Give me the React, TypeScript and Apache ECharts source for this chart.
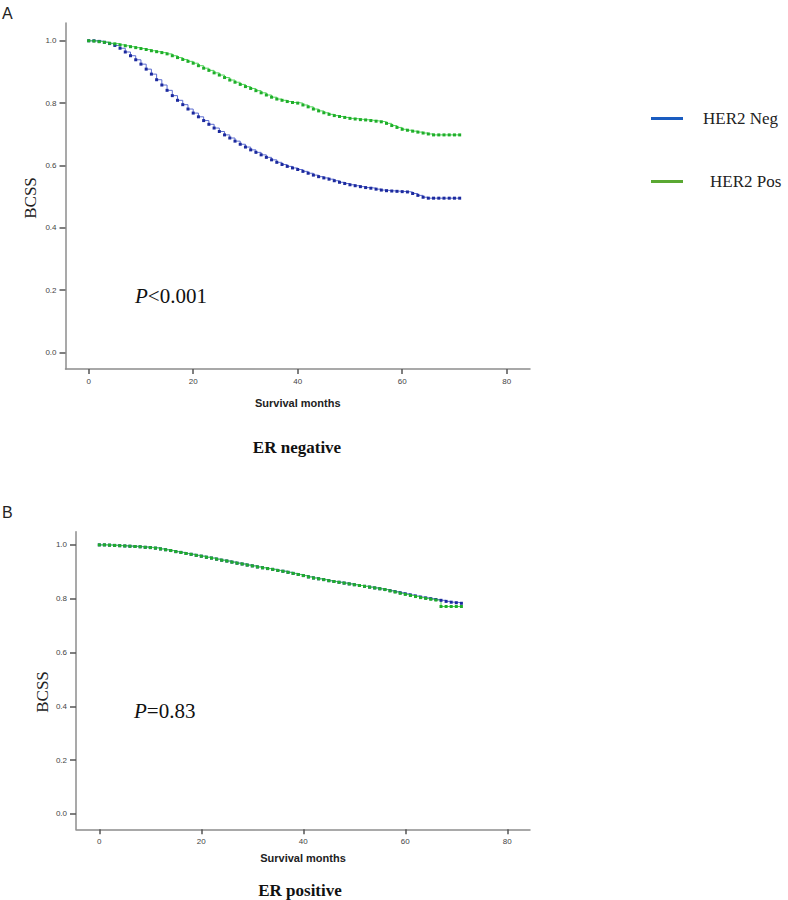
import React, { useEffect, useRef } from "react";
import * as echarts from "echarts";

// ---- data ----
const months = [0, 1, 2, 3, 4, 5, 6, 7, 8, 9, 10, 11, 12, 13, 14, 15, 16, 17, 18, 19, 20, 21, 22, 23, 24, 25, 26, 27, 28, 29, 30, 31, 32, 33, 34, 35, 36, 37, 38, 39, 40, 41, 42, 43, 44, 45, 46, 47, 48, 49, 50, 51, 52, 53, 54, 55, 56, 57, 58, 59, 60, 61, 62, 63, 64, 65, 66, 67, 68, 69, 70, 71];

// A: ER negative
const erNegHer2Neg = [1.0, 1.0, 0.998, 0.995, 0.991, 0.985, 0.976, 0.964, 0.952, 0.939, 0.925, 0.909, 0.893, 0.875, 0.858, 0.841, 0.824, 0.809, 0.795, 0.781, 0.768, 0.756, 0.744, 0.732, 0.72, 0.709, 0.698, 0.688, 0.678, 0.668, 0.659, 0.65, 0.642, 0.634, 0.626, 0.618, 0.61, 0.603, 0.597, 0.592, 0.587, 0.581, 0.575, 0.569, 0.564, 0.56, 0.556, 0.551, 0.546, 0.542, 0.538, 0.535, 0.532, 0.529, 0.527, 0.524, 0.521, 0.519, 0.518, 0.517, 0.516, 0.515, 0.51, 0.504, 0.498, 0.495, 0.495, 0.495, 0.495, 0.495, 0.495, 0.495];
const erNegHer2Pos = [1.0, 0.999, 0.997, 0.995, 0.992, 0.99, 0.987, 0.984, 0.981, 0.978, 0.975, 0.972, 0.968, 0.965, 0.962, 0.958, 0.952, 0.946, 0.94, 0.934, 0.928, 0.92, 0.912, 0.905, 0.897, 0.89, 0.882, 0.874, 0.867, 0.86, 0.853, 0.847, 0.84, 0.833, 0.826, 0.819, 0.813, 0.809, 0.805, 0.802, 0.8, 0.794, 0.788, 0.781, 0.775, 0.769, 0.764, 0.76, 0.757, 0.754, 0.751, 0.749, 0.747, 0.746, 0.744, 0.742, 0.74, 0.735, 0.728, 0.722, 0.716, 0.713, 0.71, 0.707, 0.704, 0.701, 0.698, 0.698, 0.698, 0.698, 0.698, 0.698];

// B: ER positive
const erPosHer2Neg = [1.0, 1.0, 0.999, 0.998, 0.997, 0.996, 0.995, 0.994, 0.993, 0.991, 0.99, 0.988, 0.985, 0.982, 0.979, 0.975, 0.972, 0.968, 0.965, 0.961, 0.958, 0.954, 0.951, 0.947, 0.943, 0.94, 0.936, 0.932, 0.929, 0.925, 0.922, 0.918, 0.915, 0.912, 0.909, 0.905, 0.902, 0.898, 0.894, 0.89, 0.886, 0.881, 0.877, 0.874, 0.871, 0.867, 0.864, 0.861, 0.858, 0.855, 0.852, 0.849, 0.846, 0.843, 0.84, 0.837, 0.834, 0.83, 0.826, 0.822, 0.818, 0.814, 0.81, 0.806, 0.803, 0.8, 0.797, 0.794, 0.79, 0.787, 0.785, 0.783];
const erPosHer2Pos = [1.0, 1.0, 0.999, 0.998, 0.997, 0.996, 0.995, 0.994, 0.993, 0.991, 0.99, 0.988, 0.985, 0.982, 0.979, 0.975, 0.972, 0.968, 0.965, 0.961, 0.958, 0.954, 0.951, 0.947, 0.943, 0.94, 0.936, 0.932, 0.929, 0.925, 0.922, 0.918, 0.915, 0.912, 0.909, 0.905, 0.902, 0.898, 0.894, 0.89, 0.886, 0.881, 0.877, 0.874, 0.871, 0.867, 0.864, 0.861, 0.858, 0.855, 0.852, 0.849, 0.846, 0.843, 0.84, 0.837, 0.834, 0.829, 0.825, 0.82, 0.816, 0.812, 0.808, 0.804, 0.801, 0.798, 0.795, 0.771, 0.771, 0.771, 0.771, 0.771];

const xTicks = [0, 20, 40, 60, 80];
const yTicks = [0, 0.2, 0.4, 0.6, 0.8, 1.0];
const seriesNames = ["HER2 Neg", "HER2 Pos"];

const BLUE_LINE = "#5a6bd0";
const BLUE_MARK = "#1c2a9e";
const GREEN_LINE = "#4fd858";
const GREEN_MARK = "#1fae2a";
const LEG_BLUE = "#1a5cc0";
const LEG_GREEN = "#5aa832";

const pairs = (vals: number[]) => months.map((m, i) => [m, vals[i]]);

const sansTick = { fontFamily: "Liberation Sans, Arial, sans-serif", fontSize: 8, color: "#444" };

function xAxisCfg(gridIndex: number, min: number, max: number, nameGap: number) {
  return {
    type: "value",
    gridIndex,
    min,
    max,
    axisLine: { show: true, onZero: false, lineStyle: { color: "#8c8c8c", width: 1.5 } },
    axisTick: { show: true, customValues: xTicks, length: 5, lineStyle: { color: "#555", width: 1.5 } },
    axisLabel: { show: true, customValues: xTicks, margin: 8, ...sansTick },
    splitLine: { show: false },
    name: "Survival months",
    nameLocation: "middle",
    nameGap,
    nameTextStyle: { fontFamily: "Liberation Sans, Arial, sans-serif", fontWeight: "bold", fontSize: 11, color: "#222" },
  };
}

function yAxisCfg(gridIndex: number, min: number, max: number) {
  return {
    type: "value",
    gridIndex,
    min,
    max,
    axisLine: { show: true, onZero: false, lineStyle: { color: "#8c8c8c", width: 1.5 } },
    axisTick: { show: true, customValues: yTicks, length: 6, lineStyle: { color: "#555", width: 1.5 } },
    axisLabel: { show: true, customValues: yTicks, margin: 9, formatter: (v: number) => v.toFixed(1), ...sansTick },
    splitLine: { show: false },
  };
}

function km(name: string, idx: number, vals: number[], line: string, mark: string) {
  return {
    type: "line",
    name,
    xAxisIndex: idx,
    yAxisIndex: idx,
    step: "end",
    data: pairs(vals),
    showSymbol: true,
    symbol: "rect",
    symbolSize: 3,
    lineStyle: { color: line, width: 1 },
    itemStyle: { color: mark },
    silent: true,
  };
}

export default function App() {
  const ref = useRef<HTMLDivElement>(null);
  useEffect(() => {
    if (!ref.current) return;
    const chart = echarts.init(ref.current, null, { renderer: "svg" });
    const serif = "Liberation Serif, Times New Roman, serif";
    const legendCommon = {
      left: 651,
      padding: 0,
      icon: "rect",
      itemWidth: 32,
      itemHeight: 3,
      selectedMode: false,
    };
    chart.setOption({
      animation: false,
      backgroundColor: "#ffffff",
      grid: [
        { left: 65.5, top: 23, width: 464.5, height: 346 },
        { left: 76, top: 531.7, width: 454, height: 297.6 },
      ],
      xAxis: [xAxisCfg(0, -4.44, 84.46, 28), xAxisCfg(1, -4.57, 84.45, 23)],
      yAxis: [yAxisCfg(0, -0.053, 1.057), yAxisCfg(1, -0.057, 1.049)],
      legend: [
        {
          ...legendCommon,
          top: 110,
          data: [{ name: seriesNames[0], itemStyle: { color: LEG_BLUE }, lineStyle: { color: LEG_BLUE } }],
          textStyle: { fontFamily: serif, fontSize: 17, color: "#222", padding: [0, 0, 0, 15] },
        },
        {
          ...legendCommon,
          top: 173,
          data: [{ name: seriesNames[1], itemStyle: { color: LEG_GREEN }, lineStyle: { color: LEG_GREEN } }],
          textStyle: { fontFamily: serif, fontSize: 17, color: "#222", padding: [0, 0, 0, 22] },
        },
      ],
      series: [
        km(seriesNames[0], 0, erNegHer2Neg, BLUE_LINE, BLUE_MARK),
        km(seriesNames[1], 0, erNegHer2Pos, GREEN_LINE, GREEN_MARK),
        km(seriesNames[0], 1, erPosHer2Neg, BLUE_LINE, BLUE_MARK),
        km(seriesNames[1], 1, erPosHer2Pos, GREEN_LINE, GREEN_MARK),
      ],
      graphic: [
        { type: "text", left: 2, top: 5, style: { text: "A", fontFamily: "Liberation Sans, Arial, sans-serif", fontSize: 16, fill: "#222" } },
        { type: "text", left: 2, top: 504, style: { text: "B", fontFamily: "Liberation Sans, Arial, sans-serif", fontSize: 16, fill: "#222" } },
        {
          type: "text", x: 30, y: 198, rotation: Math.PI / 2,
          style: { text: "BCSS", fontFamily: serif, fontSize: 17, fill: "#222", align: "center", verticalAlign: "middle" },
        },
        {
          type: "text", x: 42, y: 692, rotation: Math.PI / 2,
          style: { text: "BCSS", fontFamily: serif, fontSize: 17, fill: "#222", align: "center", verticalAlign: "middle" },
        },
        {
          type: "text", x: 135, y: 296,
          style: {
            text: "{i|P}<0.001", fontFamily: serif, fontSize: 21, fill: "#111", verticalAlign: "middle",
            rich: { i: { fontStyle: "italic", fontFamily: serif, fontSize: 21, fill: "#111" } },
          },
        },
        {
          type: "text", x: 134, y: 711,
          style: {
            text: "{i|P}=0.83", fontFamily: serif, fontSize: 21, fill: "#111", verticalAlign: "middle",
            rich: { i: { fontStyle: "italic", fontFamily: serif, fontSize: 21, fill: "#111" } },
          },
        },
        {
          type: "text", x: 297, y: 447,
          style: { text: "ER negative", fontFamily: serif, fontWeight: "bold", fontSize: 17, fill: "#111", align: "center", verticalAlign: "middle" },
        },
        {
          type: "text", x: 300, y: 890,
          style: { text: "ER positive", fontFamily: serif, fontWeight: "bold", fontSize: 17, fill: "#111", align: "center", verticalAlign: "middle" },
        },
      ],
    });
    return () => chart.dispose();
  }, []);
  return <div ref={ref} style={{ position: "absolute", left: 0, top: 0, width: 788, height: 900 }} />;
}
